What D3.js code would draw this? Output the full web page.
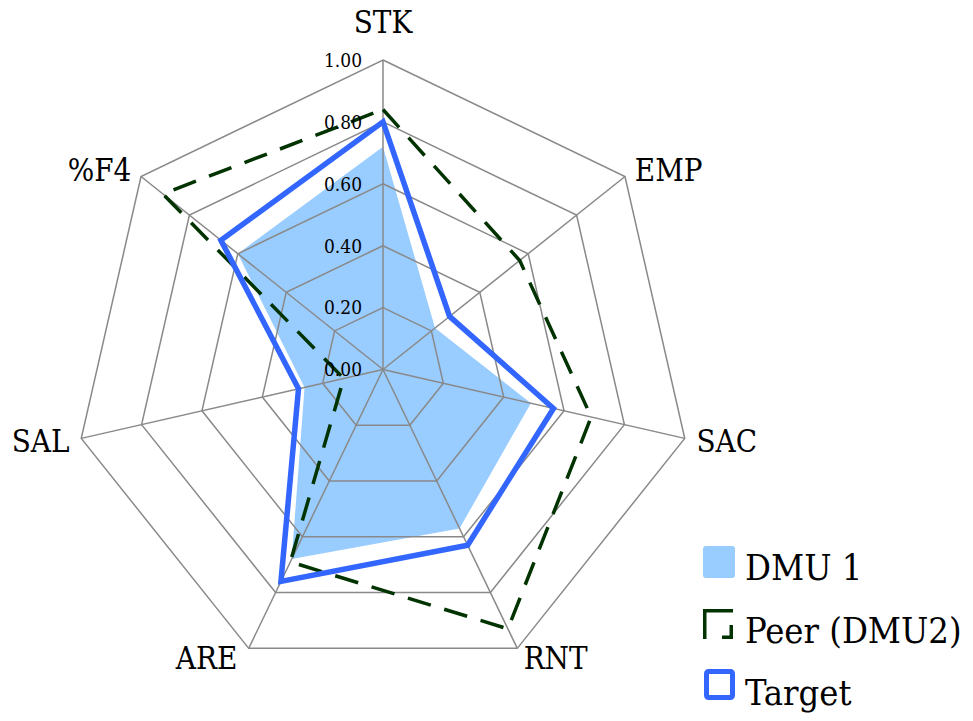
<!DOCTYPE html>
<html>
<head>
<meta charset="utf-8">
<script src="https://cdn.jsdelivr.net/npm/d3@7"></script>
<style>
  html, body { margin: 0; padding: 0; background: #fff; }
  svg { display: block; }
</style>
</head>
<body>
<svg id="chart" width="973" height="721"></svg>
<script>
// Radar axes and series (normalised scores, 0–1)
const axes = ["STK", "EMP", "SAC", "RNT", "ARE", "SAL", "%F4"];
const dmu1 = [0.72, 0.215, 0.49, 0.57, 0.68, 0.26, 0.60];
const peer = [0.84, 0.565, 0.69, 0.93, 0.69, 0.13, 0.91];
const target = [0.80, 0.275, 0.565, 0.63, 0.76, 0.28, 0.67];
const ticks = [0, 0.2, 0.4, 0.6, 0.8, 1.0];
const seriesNames = ["DMU 1", "Peer (DMU2)", "Target"];

const serif = "'DejaVu Serif Condensed', 'DejaVu Serif', serif";

const svg = d3.select("#chart").style("font-family", serif);
const cx = 383, cy = 369.5, R = 309.5;
const r = d3.scaleLinear().domain([0, 1]).range([0, R]);
const angle = d3.scalePoint().domain(d3.range(axes.length + 1)).range([0, 2 * Math.PI]);
const ang = i => angle(i);

const g = svg.append("g").attr("transform", `translate(${cx},${cy})`);

const radial = d3.lineRadial()
  .angle((d, i) => ang(i))
  .radius(d => r(d))
  .curve(d3.curveLinearClosed);

const pt = (i, v) => {
  const a = ang(i);
  return [Math.sin(a) * r(v), -Math.cos(a) * r(v)];
};

// filled area for DMU 1
g.append("path")
  .attr("d", radial(dmu1))
  .attr("fill", "#99CCFF")
  .attr("stroke", "none");

// grid rings and spokes
const gridColor = "#898989";
g.selectAll("path.ring")
  .data(ticks.filter(t => t > 0))
  .join("path")
  .attr("class", "ring")
  .attr("d", t => radial(axes.map(() => t)))
  .attr("fill", "none")
  .attr("stroke", gridColor)
  .attr("stroke-width", 1.5);

g.selectAll("line.spoke")
  .data(axes)
  .join("line")
  .attr("class", "spoke")
  .attr("x1", 0).attr("y1", 0)
  .attr("x2", (d, i) => pt(i, 1)[0])
  .attr("y2", (d, i) => pt(i, 1)[1])
  .attr("stroke", gridColor)
  .attr("stroke-width", 1.5);

// peer outline (dashed)
g.append("path")
  .attr("d", radial(peer))
  .attr("fill", "none")
  .attr("stroke", "#003300")
  .attr("stroke-width", 3.5)
  .attr("stroke-dasharray", "24,14")
  .attr("stroke-linejoin", "miter");

// target outline
g.append("path")
  .attr("d", radial(target))
  .attr("fill", "none")
  .attr("stroke", "#3366FF")
  .attr("stroke-width", 5.5)
  .attr("stroke-linejoin", "miter");

// tick labels along the first axis
g.selectAll("text.tick")
  .data(ticks)
  .join("text")
  .attr("class", "tick")
  .attr("x", -21)
  .attr("y", t => -r(t))
  .attr("dy", "0.36em")
  .attr("text-anchor", "end")
  .attr("font-family", serif)
  .attr("font-size", 19)
  .attr("fill", "#000")
  .text(t => d3.format(".2f")(t));

// axis labels outside the outer ring
g.selectAll("text.axis")
  .data(axes)
  .join("text")
  .attr("class", "axis")
  .each(function (d, i) {
    const a = ang(i);
    const ux = Math.sin(a), uy = -Math.cos(a);
    const [vx, vy] = pt(i, 1);
    const sel = d3.select(this);
    if (Math.abs(ux) < 0.01) {
      sel.attr("x", vx).attr("y", vy - 38).attr("text-anchor", "middle");
    } else {
      const side = ux > 0 ? 1 : -1;
      const extra = (ux < 0 && uy > 0.5) ? 5 : 0;
      sel.attr("x", vx + ux * 10 + side * (2 + extra))
        .attr("y", vy + uy * 11)
        .attr("text-anchor", ux > 0 ? "start" : "end");
    }
    sel.attr("dy", "0.36em");
  })
  .attr("font-family", serif)
  .attr("font-size", 31)
  .attr("fill", "#000")
  .text(d => d);

// legend
const lg = svg.append("g").attr("transform", "translate(703,546)");
const rowH = 63;
lg.append("rect")
  .attr("x", 0).attr("y", 0).attr("width", 32).attr("height", 32)
  .attr("rx", 3)
  .attr("fill", "#99CCFF");
lg.append("path")
  .attr("d", `M1.75,${rowH + 30} V${rowH + 1.75} H30`)
  .attr("fill", "none").attr("stroke", "#003300").attr("stroke-width", 3.5);
lg.append("path")
  .attr("d", `M28.25,${rowH + 16} V${rowH + 28.25} H19`)
  .attr("fill", "none").attr("stroke", "#003300").attr("stroke-width", 3.5);
lg.append("rect")
  .attr("x", 3.5).attr("y", rowH * 2 - 0.5).attr("width", 26).attr("height", 26)
  .attr("rx", 2)
  .attr("fill", "none").attr("stroke", "#3366FF").attr("stroke-width", 5);

lg.selectAll("text")
  .data(seriesNames)
  .join("text")
  .attr("x", 42)
  .attr("y", (d, i) => 34 + i * rowH - 0.5 * i)
  .attr("font-family", serif)
  .attr("font-size", 36)
  .attr("fill", "#000")
  .text(d => d);
</script>
</body>
</html>
